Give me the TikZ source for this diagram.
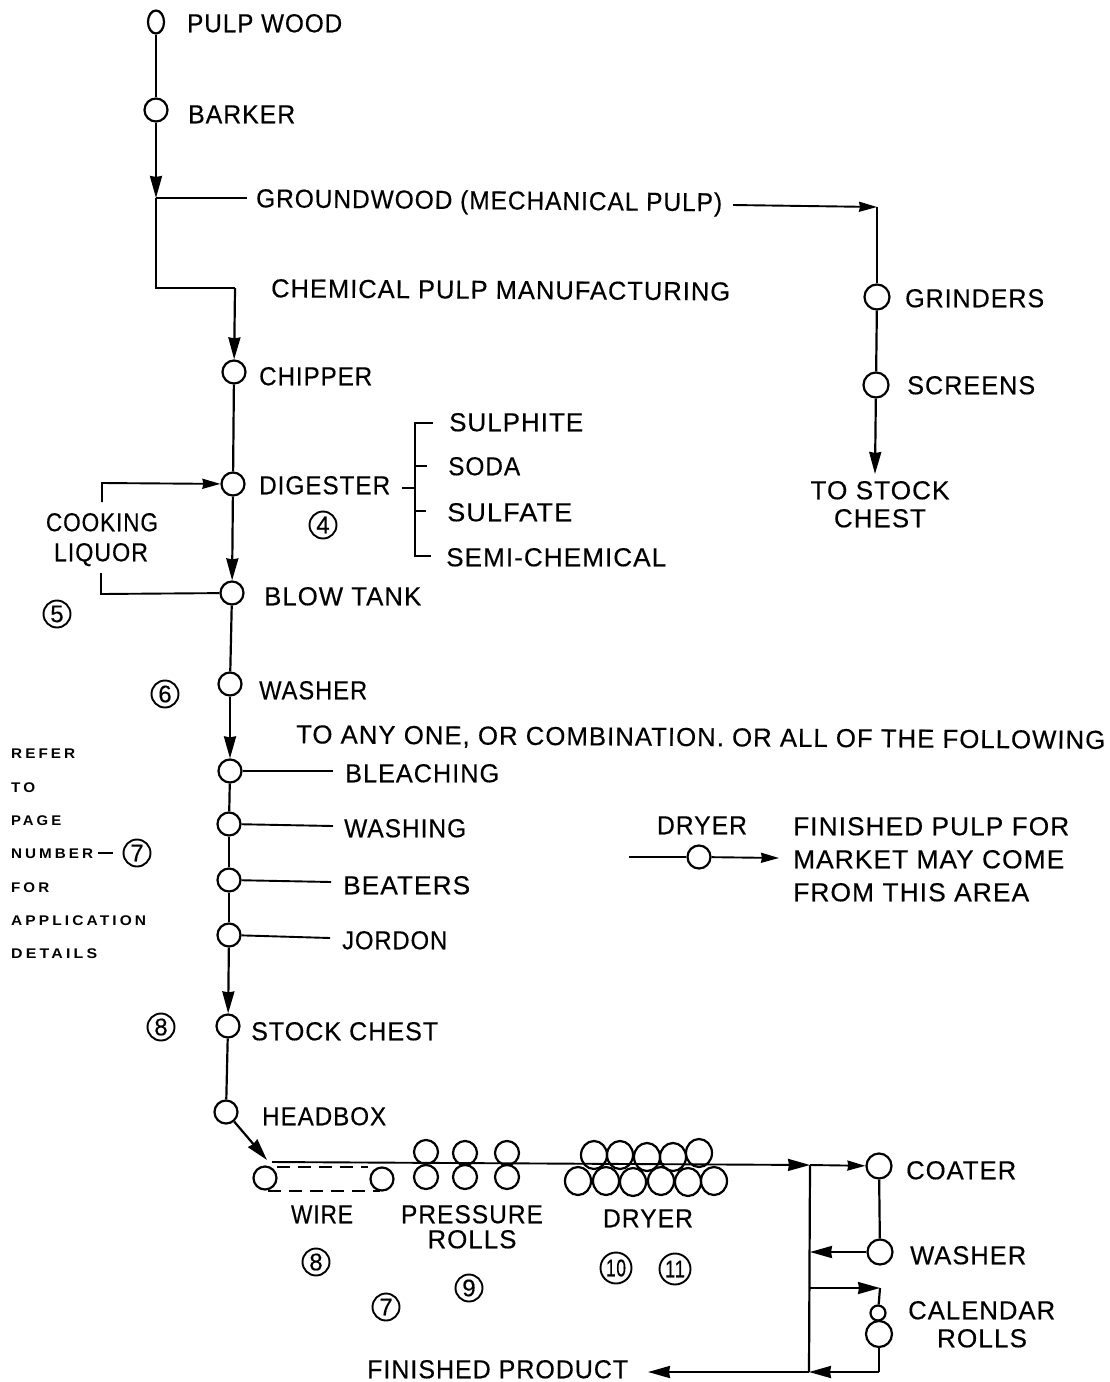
\documentclass[tikz,border=0pt]{standalone}
\usepackage{fontspec}
\usepackage{graphicx}
\setmainfont{Liberation Sans}[LetterSpace=4,FakeBold=0.35]
\newfontfamily\smallfam{Liberation Sans Bold}[LetterSpace=20]
\newcommand{\fitw}[2]{\resizebox{#1pt}{\height}{#2}}
\usetikzlibrary{arrows.meta,shapes.geometric}
\tikzset{
 lnk/.style={line width=2.2pt},
 thin lnk/.style={line width=1.9pt},
 arr/.style={lnk,-{Stealth[length=22pt,width=12pt,inset=1pt]}},
 harr/.style={thin lnk,-{Stealth[length=18pt,width=10pt,inset=1pt]}},
 rc/.style={circle,draw,line width=2.2pt,inner sep=0pt,minimum size=23pt,fill=white},
 bigrc/.style={rc,minimum size=25pt},
 roll/.style={rc,minimum size=24pt,fill=none},
 dryroll/.style={ellipse,draw,line width=2.2pt,inner sep=0pt,minimum width=26pt,minimum height=28pt},
 lab/.style={anchor=west,inner sep=0pt,text height=18.5pt,text depth=0pt,font=\fontsize{26}{26}\selectfont},
 clab/.style={lab,anchor=center},
 tiny lab/.style={anchor=west,inner sep=0pt,text height=10pt,text depth=0pt,font=\fontsize{14}{14}\smallfam},
 num/.style={circle,draw,line width=1.9pt,inner sep=0pt,minimum size=27pt,font=\fontsize{24}{24}\selectfont},
 dash lnk/.style={line width=2pt,dash pattern=on 13pt off 8pt}
}
\begin{document}
\begin{tikzpicture}[x=1pt,y=-1pt]
\useasboundingbox (0,0) rectangle (1109,1382);
% process circles
\node[ellipse,draw,line width=2.2pt,inner sep=0pt,minimum width=16pt,minimum height=23pt] (pw) at (156,22) {};
\node[rc] (bark) at (156,110) {};
\node[rc] (chip) at (234,372) {};
\node[rc] (dig) at (233,484) {};
\node[rc] (blow) at (232,593) {};
\node[rc] (wash) at (230,684) {};
\node[rc] (bleach) at (230,771) {};
\node[rc] (wash2) at (229,824) {};
\node[rc] (beat) at (229,880) {};
\node[rc] (jord) at (229,935) {};
\node[rc] (stock) at (228,1026) {};
\node[rc] (head) at (226,1112) {};
\node[bigrc] (grind) at (877,297) {};
\node[bigrc] (screen) at (876,385) {};
\node[bigrc] (coat) at (879,1166) {};
\node[bigrc] (wash3) at (880,1252) {};
\node[rc,minimum size=15pt] (calA) at (878,1313) {};
\node[rc,minimum size=26pt] (calB) at (879,1334) {};
\node[rc] (dry) at (699,857) {};
% labels
\node[lab] (tpw) at (187,23) {\fitw{155}{PULP WOOD}};
\node[lab] (tbark) at (188,114) {\fitw{107}{BARKER}};
\node[lab,rotate=-0.5] (tgw) at (256,198) {\fitw{466}{GROUNDWOOD (MECHANICAL PULP)}};
\node[lab,rotate=-0.4] (tchem) at (271,288) {\fitw{459}{CHEMICAL PULP MANUFACTURING}};
\node[lab] (tchip) at (259,376) {\fitw{113}{CHIPPER}};
\node[lab] (tdig) at (259,485) {\fitw{131}{DIGESTER}};
\node[lab] (tsul) at (449,422) {\fitw{134}{SULPHITE}};
\node[lab] (tsoda) at (448,466) {\fitw{72}{SODA}};
\node[lab] (tsulf) at (447,512) {\fitw{125}{SULFATE}};
\node[lab] (tsemi) at (446,557) {\fitw{220}{SEMI-CHEMICAL}};
\node[clab] (tcook) at (102,522) {\fitw{112}{COOKING}};
\node[clab] (tliq) at (101,552) {\fitw{94}{LIQUOR}};
\node[lab] (tblow) at (264,596) {\fitw{157}{BLOW TANK}};
\node[lab] (twash) at (259,690) {\fitw{108}{WASHER}};
\node[lab,rotate=-0.4] (tany) at (296,734) {\fitw{809}{TO ANY ONE, OR COMBINATION. OR ALL OF THE FOLLOWING}};
\node[lab] (tbleach) at (345,773) {\fitw{154}{BLEACHING}};
\node[lab] (twash2) at (344,828) {\fitw{122}{WASHING}};
\node[lab] (tbeat) at (343,885) {\fitw{127}{BEATERS}};
\node[lab] (tjord) at (342,940) {\fitw{105}{JORDON}};
\node[lab] (tstock) at (251,1031) {\fitw{187}{STOCK CHEST}};
\node[lab] (thead) at (262,1116) {\fitw{124}{HEADBOX}};
\node[clab] (twire) at (322,1214) {\fitw{62}{WIRE}};
\node[clab] (tpres) at (472,1214) {\fitw{142}{PRESSURE}};
\node[clab] (trolls) at (472,1239) {\fitw{89}{ROLLS}};
\node[clab] (tdry) at (648,1218) {\fitw{90}{DRYER}};
\node[lab] (tfin) at (367,1369) {\fitw{261}{FINISHED PRODUCT}};
\node[lab] (tcoat) at (906,1170) {\fitw{110}{COATER}};
\node[lab] (twash3) at (910,1255) {\fitw{116}{WASHER}};
\node[lab] (tcal) at (908,1310) {\fitw{147}{CALENDAR}};
\node[clab] (trolls2) at (982,1338) {\fitw{90}{ROLLS}};
\node[lab] (tgrind) at (905,298) {\fitw{139}{GRINDERS}};
\node[lab] (tscreen) at (907,385) {\fitw{128}{SCREENS}};
\node[clab] (tts) at (880,490) {\fitw{139}{TO STOCK}};
\node[clab] (tchest) at (880,518) {\fitw{92}{CHEST}};
\node[clab] (tdry2) at (702,825) {\fitw{90}{DRYER}};
\node[lab] (tfp1) at (793,826) {\fitw{276}{FINISHED PULP FOR}};
\node[lab] (tfp2) at (793,859) {\fitw{271}{MARKET MAY COME}};
\node[lab] (tfp3) at (793,892) {\fitw{236}{FROM THIS AREA}};
% left small notes
\node[tiny lab] (n1) at (11,753) {\fitw{64}{REFER}};
\node[tiny lab] (n2) at (11,787) {\fitw{24}{TO}};
\node[tiny lab] (n3) at (11,820) {\fitw{50}{PAGE}};
\node[tiny lab] (n4) at (11,853) {\fitw{82}{NUMBER}};
\node[tiny lab] (n5) at (11,887) {\fitw{38}{FOR}};
\node[tiny lab] (n6) at (11,920) {\fitw{135}{APPLICATION}};
\node[tiny lab] (n7) at (11,953) {\fitw{86}{DETAILS}};
% circled numbers
\node[num] (c4) at (323,525) {4};
\node[num] (c5) at (57,614) {5};
\node[num] (c6) at (165,694) {6};
\node[num] (c7a) at (137,853) {7};
\node[num] (c8a) at (161,1027) {8};
\node[num] (c8b) at (316,1262) {8};
\node[num] (c7b) at (386,1307) {7};
\node[num] (c9) at (469,1288) {9};
\node[num,minimum size=31pt] (c10) at (616,1268) {\fitw{20}{10}};
\node[num,minimum size=31pt] (c11) at (675,1269) {\fitw{20}{11}};
% free-end coordinates
\coordinate (j1) at (156,198);
\coordinate (j1b) at (156,288);
\coordinate (j2) at (235,288);
\coordinate (g1) at (247,198);
\coordinate (g2) at (733,205);
\coordinate (g3) at (877,207);
\coordinate (sEnd) at (875,474);
\coordinate (lq1) at (102,502);
\coordinate (lq2) at (102,483);
\coordinate (lq3) at (101,573);
\coordinate (lq4) at (101,594);
\coordinate (wireL) at (267,1160);
% main flow
\draw[lnk] (pw) -- (bark);
\draw[arr] (bark) -- (j1);
\draw[lnk] (j1) -- (j1b) -- (j2);
\draw[arr] (j2) -- (chip);
\draw[lnk] (chip) -- (dig);
\draw[arr] (dig) -- (blow);
\draw[lnk] (blow) -- (wash);
\draw[arr] (wash) -- (bleach);
\draw[lnk] (bleach) -- (wash2);
\draw[lnk] (wash2) -- (beat);
\draw[lnk] (beat) -- (jord);
\draw[arr] (jord) -- (stock);
\draw[lnk] (stock) -- (head);
\draw[arr] (head) -- (wireL);
% groundwood branch
\draw[thin lnk] (j1) -- (g1);
\draw[harr] (g2) -- (g3);
\draw[lnk] (g3) -- (grind);
\draw[lnk] (grind) -- (screen);
\draw[arr] (screen) -- (sEnd);
% bracket
\coordinate (b0) at (402,488);
\coordinate (b1) at (415,488);
\coordinate (bt) at (415,423);
\coordinate (bb) at (415,556);
\coordinate (bt2) at (433,423);
\coordinate (bb2) at (431,556);
\coordinate (bs1) at (427,466);
\coordinate (bs2) at (426,511);
\coordinate (bs1a) at (415,466);
\coordinate (bs2a) at (415,511);
\draw[thin lnk] (b0) -- (b1);
\draw[thin lnk] (bt2) -- (bt) -- (bb) -- (bb2);
\draw[thin lnk] (bs1a) -- (bs1);
\draw[thin lnk] (bs2a) -- (bs2);
% cooking liquor
\draw[harr] (lq1) -- (lq2) -- (dig);
\draw[thin lnk] (lq3) -- (lq4) -- (blow);
% stubs
\coordinate (s1) at (333,771);
\coordinate (s2) at (333,826);
\coordinate (s3) at (331,882);
\coordinate (s4) at (330,938);
\draw[thin lnk] (bleach) -- (s1);
\draw[thin lnk] (wash2) -- (s2);
\draw[thin lnk] (beat) -- (s3);
\draw[thin lnk] (jord) -- (s4);
% note dash
\coordinate (d1) at (98,853);
\coordinate (d2) at (113,853);
\draw[line width=2pt] (d1) -- (d2);
% dryer key
\coordinate (k1) at (629,857);
\coordinate (k2) at (779,858);
\draw[thin lnk] (k1) -- (dry);
\draw[harr] (dry) -- (k2);
% wire
\node[rc,fill=none] (wL) at (265,1178) {};
\node[rc,fill=none] (wR) at (382,1179) {};
\coordinate (dTa) at (277,1167);
\coordinate (dTb) at (368,1167);
\coordinate (dBa) at (268,1191);
\coordinate (dBb) at (380,1191);
\draw[dash lnk] (dTa) -- (dTb);
\draw[dash lnk] (dBa) -- (dBb);
% pressure rolls
\node[roll] (p1) at (426,1152) {};
\node[roll] (p2) at (426,1177) {};
\node[roll] (p3) at (465,1153) {};
\node[roll] (p4) at (465,1177) {};
\node[roll] (p5) at (507,1153) {};
\node[roll] (p6) at (507,1177) {};
% dryer rolls
\node[dryroll] (d11) at (594,1155) {};
\node[dryroll] (d12) at (620,1155) {};
\node[dryroll] (d13) at (647,1157) {};
\node[dryroll] (d14) at (673,1157) {};
\node[dryroll] (d15) at (699,1153) {};
\node[dryroll] (d21) at (578,1181) {};
\node[dryroll] (d22) at (606,1181) {};
\node[dryroll] (d23) at (633,1182) {};
\node[dryroll] (d24) at (661,1181) {};
\node[dryroll] (d25) at (688,1182) {};
\node[dryroll] (d26) at (714,1181) {};
% web line and collector
\coordinate (web0) at (272,1162);
\coordinate (m1) at (810,1165);
\coordinate (m2) at (810,1252);
\coordinate (m3) at (810,1288);
\coordinate (m4) at (809,1372);
\coordinate (m5) at (880,1288);
\coordinate (m6) at (648,1372);
\coordinate (m7) at (879,1372);
\draw[thin lnk,-{Stealth[length=22pt,width=12pt,inset=1pt]}] (web0) -- (m1);
\draw[harr] (m1) -- (coat);
\draw[lnk] (coat) -- (wash3);
\draw[arr] (wash3) -- (m2);
\draw[lnk] (m1) -- (m4);
\draw[thin lnk,-{Stealth[length=22pt,width=12pt,inset=1pt]}] (m3) -- (m5);
\draw[lnk] (m5) -- (calA);
\draw[lnk] (calB) -- (m7);
\draw[arr] (m7) -- (m4);
\draw[arr] (m4) -- (m6);
\end{tikzpicture}
\end{document}
